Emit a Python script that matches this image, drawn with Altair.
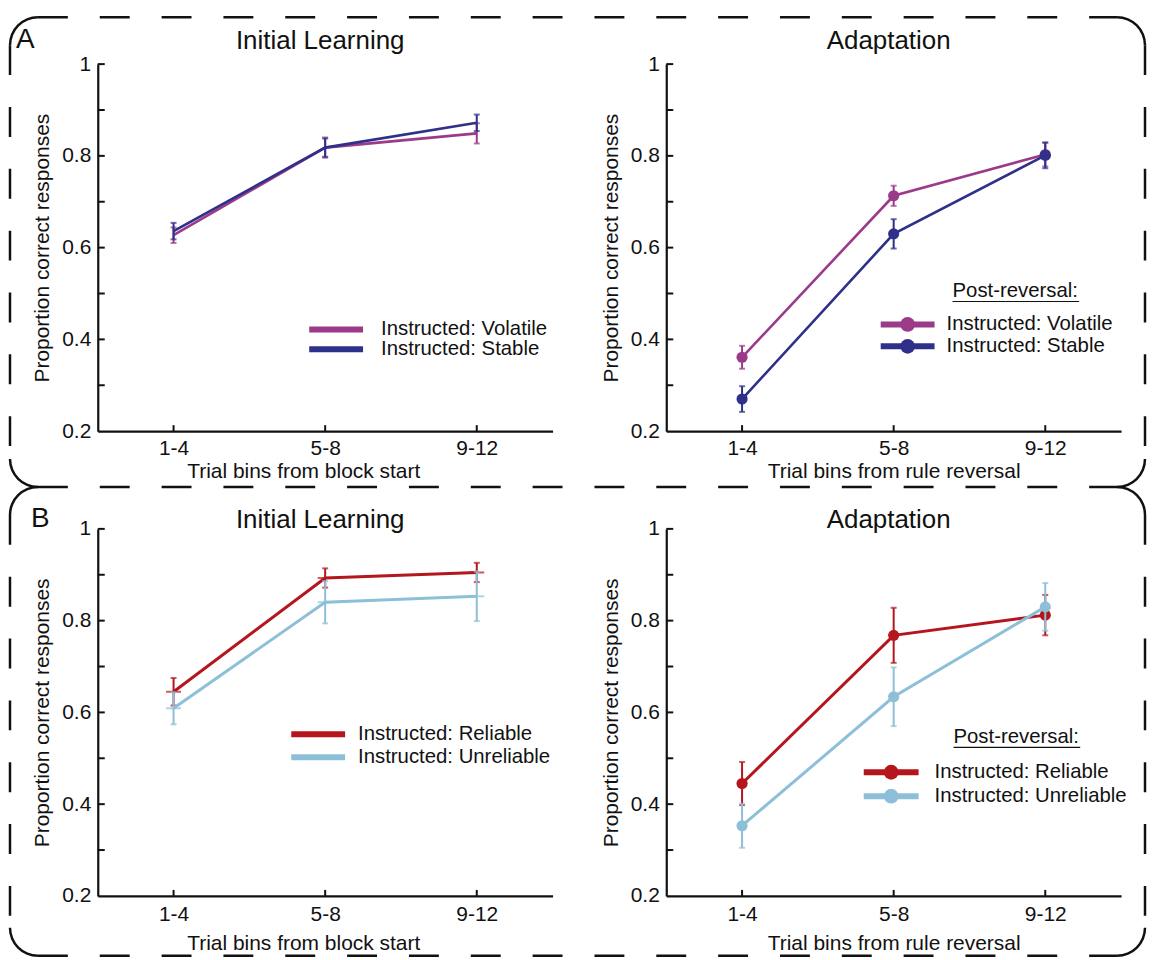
import altair as alt
import pandas as pd

# ---------------- data ----------------
bins = ["1-4", "5-8", "9-12"]

# Panel A - Initial Learning
a_init_volatile = [0.627, 0.818, 0.849]
a_init_volatile_err = [0.017, 0.022, 0.022]
a_init_stable = [0.636, 0.818, 0.872]
a_init_stable_err = [0.018, 0.020, 0.018]

# Panel A - Adaptation
a_adapt_volatile = [0.361, 0.713, 0.803]
a_adapt_volatile_err = [0.025, 0.022, 0.026]
a_adapt_stable = [0.270, 0.630, 0.801]
a_adapt_stable_err = [0.028, 0.032, 0.028]

# Panel B - Initial Learning
b_init_reliable = [0.645, 0.893, 0.905]
b_init_reliable_err = [0.030, 0.021, 0.021]
b_init_unreliable = [0.609, 0.840, 0.853]
b_init_unreliable_err = [0.035, 0.046, 0.054]

# Panel B - Adaptation
b_adapt_reliable = [0.445, 0.768, 0.812]
b_adapt_reliable_err = [0.047, 0.060, 0.044]
b_adapt_unreliable = [0.353, 0.634, 0.830]
b_adapt_unreliable_err = [0.048, 0.064, 0.052]

series_names_A = ["Instructed: Volatile", "Instructed: Stable"]
series_names_B = ["Instructed: Reliable", "Instructed: Unreliable"]
colors_A = ["#9c3a8a", "#2e3089"]
colors_B = ["#b5161d", "#8dc0d8"]

y_label_values = [0.2, 0.4, 0.6, 0.8, 1.0]
y_tick_values = [0.3, 0.4, 0.5, 0.6, 0.7, 0.8, 0.9, 1.0]

titles = ["Initial Learning", "Adaptation"]
xtitles = ["Trial bins from block start", "Trial bins from rule reversal"]
ytitle = "Proportion correct responses"
legend_header = "Post-reversal:"

# ---------------- styling ----------------
W, H = 456, 368
FONT = "Liberation Sans"
INK = "#111111"
ONE = pd.DataFrame({"k": [0]})
TICK_FS = 21
AXT_FS = 21
LEG_FS = 20.4


def make_df(values, errs):
    return pd.DataFrame({
        "bin": bins,
        "mean": values,
        "lo": [v - e for v, e in zip(values, errs)],
        "hi": [v + e for v, e in zip(values, errs)],
    })


def text_layer(txt, x, y, size, align="left"):
    return alt.Chart(ONE).mark_text(align=align, baseline="middle", fontSize=size,
                                    font=FONT, color=INK).encode(
        x=alt.value(x), y=alt.value(y), text=alt.value(txt))


def border_layers(x0, y0, x1, y1, r, edges, corners):
    sw = 2.5
    out = []
    dash = [30, 32]
    if "top" in edges:
        out.append(alt.Chart(ONE).mark_rule(color=INK, strokeWidth=sw, strokeDash=dash).encode(
            x=alt.value(x0 + r), x2=alt.value(x1 - r), y=alt.value(y0)))
    if "bottom" in edges:
        out.append(alt.Chart(ONE).mark_rule(color=INK, strokeWidth=sw, strokeDash=dash).encode(
            x=alt.value(x0 + r), x2=alt.value(x1 - r), y=alt.value(y1)))
    if "left" in edges:
        out.append(alt.Chart(ONE).mark_rule(color=INK, strokeWidth=sw, strokeDash=dash).encode(
            x=alt.value(x0), y=alt.value(y0 + r), y2=alt.value(y1 - r)))
    if "right" in edges:
        out.append(alt.Chart(ONE).mark_rule(color=INK, strokeWidth=sw, strokeDash=dash).encode(
            x=alt.value(x1), y=alt.value(y0 + r), y2=alt.value(y1 - r)))
    pi = 3.141592653589793
    spec = {
        "tl": (x0 + r, y0 + r, 1.5 * pi, 2 * pi),
        "tr": (x1 - r, y0 + r, 0.0, 0.5 * pi),
        "br": (x1 - r, y1 - r, 0.5 * pi, pi),
        "bl": (x0 + r, y1 - r, pi, 1.5 * pi),
    }
    for c in corners:
        cx, cy, t1, t2 = spec[c]
        out.append(alt.Chart(ONE).mark_arc(color=INK, theta=t1, theta2=t2,
                                           radius=r + sw / 2, radius2=r - sw / 2).encode(
            x=alt.value(cx), y=alt.value(cy)))
    return out


def panel(title, title_y, xtitle, series, names, colors, with_points, legend, label=None,
          label_pos=None, extra=None, lw=2.6, title_x=None, xlab_pad=6, xtitle_pad=2,
          mean_marks=False):
    xaxis_kw = dict(title=xtitle, labelAngle=0, ticks=False, domainColor=INK, domainWidth=2.2,
                    labelFontSize=TICK_FS, labelPadding=xlab_pad, titleFontSize=AXT_FS,
                    titleFontWeight="normal", titlePadding=xtitle_pad, grid=False)
    if title_x is not None:
        xaxis_kw["titleX"] = title_x
    xaxis = alt.Axis(**xaxis_kw)
    yaxis = alt.Axis(values=y_label_values,
                     labelExpr="datum.value == 1 ? '1' : format(datum.value, '.1f')",
                     ticks=False, domainColor=INK, domainWidth=2.2, labelFontSize=TICK_FS,
                     labelPadding=7, title=ytitle, titleFontSize=AXT_FS, titleFontWeight="normal",
                     titlePadding=9, grid=False)
    xscale = alt.Scale(type="point", padding=0.5)
    yscale = alt.Scale(domain=[0.2, 1.0], nice=False, zero=False)

    def X(f="bin"):
        return alt.X(f"{f}:N", sort=bins, scale=xscale, axis=xaxis)

    def Y(f):
        return alt.Y(f"{f}:Q", scale=yscale, axis=yaxis)

    layers = []
    # inward ticks
    layers.append(alt.Chart(pd.DataFrame({"v": y_tick_values})).mark_rule(color=INK, strokeWidth=2).encode(
        y=Y("v"), x=alt.value(0), x2=alt.value(7)))
    layers.append(alt.Chart(pd.DataFrame({"bin": bins})).mark_rule(color=INK, strokeWidth=2).encode(
        x=X(), y=alt.value(H), y2=alt.value(H - 6)))

    for (vals, errs), col in zip(series, colors):
        df = make_df(vals, errs)
        base = alt.Chart(df)
        layers.append(base.mark_line(color=col, strokeWidth=lw).encode(x=X(), y=Y("mean")))
        layers.append(base.mark_rule(color=col, strokeWidth=2).encode(x=X(), y=Y("lo"), y2="hi"))
        layers.append(base.mark_tick(color=col, thickness=2, size=6).encode(x=X(), y=Y("lo")))
        layers.append(base.mark_tick(color=col, thickness=2, size=6).encode(x=X(), y=Y("hi")))
        if mean_marks:
            layers.append(base.mark_tick(color=col, thickness=2, size=15).encode(x=X(), y=Y("mean")))
        if with_points:
            layers.append(base.mark_circle(color=col, size=125, opacity=1).encode(x=X(), y=Y("mean")))

    # panel title
    layers.append(text_layer(title, 223, title_y, 26, align="center"))

    # manual legend
    lx0, lx1, rows, tx = legend["x0"], legend["x1"], legend["rows"], legend["tx"]
    if "header_y" in legend:
        hy = legend["header_y"]
        layers.append(text_layer(legend_header, legend["hx"], hy, LEG_FS))
        layers.append(alt.Chart(ONE).mark_rule(color=INK, strokeWidth=1.2).encode(
            x=alt.value(legend["hx"]), x2=alt.value(legend["hx"] + 127), y=alt.value(hy + 10)))
    for name, col, yy in zip(names, colors, rows):
        layers.append(alt.Chart(ONE).mark_rule(color=col, strokeWidth=6).encode(
            x=alt.value(lx0), x2=alt.value(lx1), y=alt.value(yy)))
        if with_points:
            layers.append(alt.Chart(ONE).mark_circle(color=col, size=220, opacity=1).encode(
                x=alt.value((lx0 + lx1) / 2), y=alt.value(yy)))
        layers.append(text_layer(name, tx, yy, LEG_FS))

    if label is not None:
        layers.append(text_layer(label, label_pos[0], label_pos[1], 28))
    if extra:
        layers.extend(extra)

    return alt.layer(*layers).properties(width=W, height=H)


# border geometry relative to the left panel of each row (plot-area origin)
BX0, BX1, R = -88, 1050, 28
border_A = border_layers(BX0, -47, BX1, 424, R, ["top", "bottom", "left", "right"],
                         ["tl", "tr", "br", "bl"])
border_B = border_layers(BX0, -42, BX1, 428, R, ["bottom", "left", "right"],
                         ["tl", "tr", "br", "bl"])

pA1 = panel(titles[0], -23, xtitles[0],
            [(a_init_volatile, a_init_volatile_err), (a_init_stable, a_init_stable_err)],
            series_names_A, colors_A, False,
            {"x0": 212, "x1": 266, "rows": [266, 286], "tx": 284},
            label="A", label_pos=(-82, -24), extra=border_A, lw=2.6, title_x=206)

pA2 = panel(titles[1], -23, xtitles[1],
            [(a_adapt_volatile, a_adapt_volatile_err), (a_adapt_stable, a_adapt_stable_err)],
            series_names_A, colors_A, True,
            {"x0": 215, "x1": 269, "rows": [261, 283], "tx": 281, "header_y": 228, "hx": 287},
            lw=2.6)

pB1 = panel(titles[0], -9, xtitles[0],
            [(b_init_reliable, b_init_reliable_err), (b_init_unreliable, b_init_unreliable_err)],
            series_names_B, colors_B, False,
            {"x0": 194, "x1": 248, "rows": [206, 229], "tx": 261},
            label="B", label_pos=(-67, -10), extra=border_B, lw=3, title_x=206,
            xlab_pad=8, xtitle_pad=8, mean_marks=True)

pB2 = panel(titles[1], -9, xtitles[1],
            [(b_adapt_reliable, b_adapt_reliable_err), (b_adapt_unreliable, b_adapt_unreliable_err)],
            series_names_B, colors_B, True,
            {"x0": 198, "x1": 253, "rows": [244, 268], "tx": 269, "header_y": 209, "hx": 288},
            lw=3, xlab_pad=8, xtitle_pad=8)

chart = alt.concat(pA1, pA2, pB1, pB2, columns=2, spacing={"row": 98, "column": 114},
                   bounds="flush").properties(
    padding={"left": 0, "top": 6, "right": 0, "bottom": 0}
).configure_view(stroke=None).configure_axis(
    labelFont=FONT, titleFont=FONT, labelColor=INK, titleColor=INK
)

chart.save("out.html", embed_options={"renderer": "svg", "actions": False})
